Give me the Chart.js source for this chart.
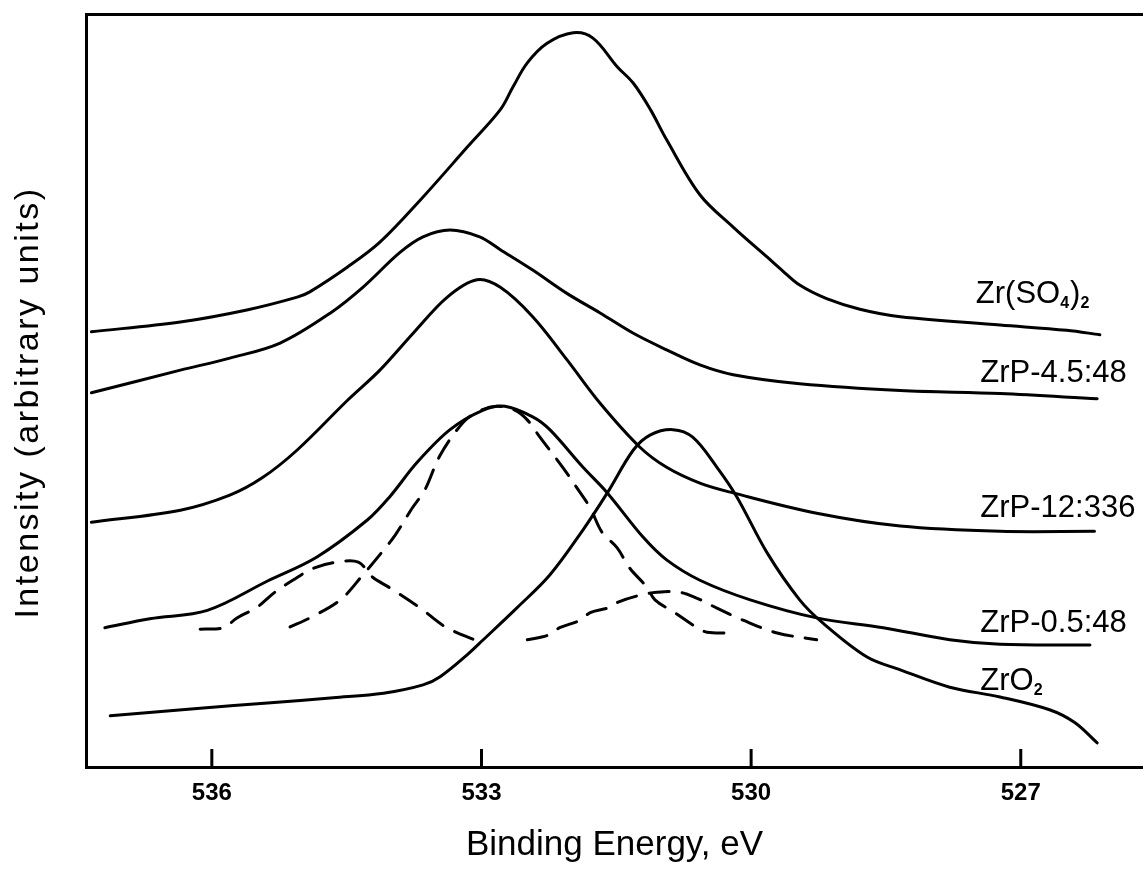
<!DOCTYPE html>
<html>
<head>
<meta charset="utf-8">
<script src="https://cdn.jsdelivr.net/npm/chart.js@4.4.1/dist/chart.umd.min.js"></script>
<style>
  html, body { margin: 0; padding: 0; background: #fff; }
  canvas { display: block; }
</style>
</head>
<body>
<canvas id="graficoXps" width="1143" height="869"></canvas>
<script>
// O 1s XPS spectra, binding energy (eV) vs intensity (arbitrary units)
const xTicks = [536, 533, 530, 527];

const zrSO4Energy = [537.34, 536.35, 535.61, 535.05, 534.91, 534.49, 534.13, 533.68, 533.16, 532.79, 532.65, 532.49, 532.27, 531.98, 531.76, 531.49, 531.31, 531.12, 530.94, 530.57, 530.20, 529.82, 529.65, 529.46, 529.16, 528.79, 528.34, 527.23, 526.49, 526.12];
const zrSO4Intensity = [57.8, 59.1, 60.7, 62.4, 63.1, 66.4, 69.7, 75.3, 82.3, 87.3, 90.3, 93.5, 96.1, 97.5, 96.8, 93.0, 90.8, 87.3, 83.3, 76.0, 71.7, 67.7, 65.9, 64.0, 62.2, 60.8, 59.8, 58.7, 58.0, 57.4];

const zrP45Energy = [537.34, 536.35, 535.80, 535.24, 534.68, 534.32, 533.91, 533.65, 533.35, 533.02, 532.79, 532.43, 532.05, 531.68, 531.31, 530.94, 530.57, 530.20, 529.46, 528.34, 527.23, 526.15];
const zrP45Intensity = [49.7, 52.7, 54.3, 56.3, 60.3, 63.7, 68.3, 70.4, 71.3, 70.4, 68.7, 66.0, 62.9, 60.3, 57.6, 55.4, 53.4, 52.1, 50.9, 50.0, 49.6, 48.9];

const zrP12Energy = [537.34, 536.35, 535.80, 535.44, 535.05, 534.49, 534.13, 533.76, 533.38, 533.05, 532.79, 532.43, 532.05, 531.68, 531.24, 530.94, 530.57, 530.20, 529.27, 528.34, 527.23, 526.18];
const zrP12Intensity = [32.5, 34.1, 36.1, 38.4, 42.1, 48.7, 52.7, 57.6, 62.4, 64.7, 63.7, 59.8, 54.1, 48.3, 42.5, 39.8, 37.7, 36.4, 33.7, 32.0, 31.3, 31.3];

const zrP05Energy = [537.19, 536.69, 536.05, 535.38, 534.83, 534.27, 534.02, 533.72, 533.35, 532.98, 532.74, 532.43, 532.24, 531.87, 531.60, 531.20, 530.94, 530.57, 530.01, 529.27, 528.53, 527.79, 527.23, 526.23];
const zrP05Intensity = [18.5, 19.7, 20.8, 24.7, 27.9, 32.8, 35.9, 40.4, 44.8, 47.4, 47.9, 46.5, 44.8, 39.8, 36.4, 30.5, 27.5, 24.8, 22.2, 19.8, 18.5, 16.9, 16.3, 16.2];

const zrO2Energy = [537.13, 536.13, 535.38, 534.65, 534.09, 533.65, 533.46, 533.16, 532.98, 532.60, 532.24, 531.87, 531.60, 531.31, 531.12, 530.87, 530.65, 530.38, 530.16, 529.82, 529.46, 529.20, 528.71, 528.34, 527.79, 527.23, 526.68, 526.40, 526.15];
const zrO2Intensity = [6.8, 7.8, 8.5, 9.2, 9.8, 10.9, 12.0, 14.9, 16.9, 21.2, 25.5, 31.5, 36.4, 42.1, 44.1, 44.8, 43.8, 39.8, 35.9, 28.4, 22.2, 19.1, 14.6, 12.9, 10.6, 9.3, 7.6, 5.9, 3.2];

// deconvolution of ZrP-0.5:48 (dashed)
const fitLowEnergy = [536.13, 535.87, 535.72, 535.50, 535.30, 535.10, 534.87, 534.61, 534.37, 534.21, 534.02, 533.68, 533.40, 533.04];
const fitLowIntensity = [18.3, 18.5, 19.8, 21.2, 23.2, 24.8, 26.4, 27.2, 27.2, 25.2, 23.8, 21.1, 18.6, 16.7];

const fitMainEnergy = [535.13, 534.91, 534.57, 534.32, 534.13, 533.96, 533.77, 533.63, 533.46, 533.20, 533.02, 532.83, 532.63, 532.49, 532.35, 532.09, 531.94, 531.79, 531.66, 531.49, 531.35, 531.16, 531.07, 530.85, 530.60, 530.49, 530.23];
const fitMainIntensity = [18.6, 19.8, 22.2, 25.5, 28.2, 30.8, 34.4, 36.8, 41.4, 45.8, 47.3, 47.9, 47.4, 46.1, 43.8, 39.7, 37.1, 34.4, 31.2, 29.1, 26.4, 23.9, 22.2, 20.5, 18.5, 17.9, 17.8];

const fitHighEnergy = [532.49, 532.26, 532.13, 531.90, 531.79, 531.57, 531.48, 531.24, 531.05, 530.79, 530.60, 530.38, 530.09, 529.71, 529.27];
const fitHighIntensity = [16.9, 17.5, 18.5, 19.5, 20.5, 21.2, 21.9, 22.8, 23.2, 23.2, 22.4, 21.1, 19.5, 17.8, 16.9];

// curve labels: energy / intensity where the text starts
const seriesLabels = [
    { x: 527.50, y: 61.6, parts: [{ t: 'Zr(SO' }, { t: '4', sub: true }, { t: ')' }, { t: '2', sub: true }] },
    { x: 527.45, y: 51.1, parts: [{ t: 'ZrP-4.5:48' }] },
    { x: 527.45, y: 33.2, parts: [{ t: 'ZrP-12:336' }] },
    { x: 527.45, y: 17.9, parts: [{ t: 'ZrP-0.5:48' }] },
    { x: 527.45, y: 10.2, parts: [{ t: 'ZrO' }, { t: '2', sub: true }] }
];

const yTitle = 'Intensity (arbitrary units)';
const fonte = "'Liberation Sans', Arial, Helvetica, sans-serif";

function serie(energy, intensity, dashed) {
    return {
        data: energy.map((e, i) => ({ x: e, y: intensity[i] })),
        borderColor: '#000',
        borderWidth: 3,
        borderDash: dashed ? [20, 13] : [],
        borderCapStyle: 'round',
        borderJoinStyle: 'round',
        pointRadius: 0,
        fill: false,
        tension: 0.35
    };
}

const ticksAndLabels = {
    id: 'ticksAndLabels',
    afterDraw(chart) {
        const { ctx, chartArea, scales: { x, y } } = chart;
        ctx.save();
        ctx.strokeStyle = '#000';
        ctx.lineWidth = 3;
        xTicks.forEach(v => {
            const px = x.getPixelForValue(v);
            ctx.beginPath();
            ctx.moveTo(px, chartArea.bottom);
            ctx.lineTo(px, chartArea.bottom - 18);
            ctx.stroke();
        });

        ctx.fillStyle = '#000';
        ctx.textBaseline = 'alphabetic';
        ctx.textAlign = 'left';
        seriesLabels.forEach(l => {
            let cx = x.getPixelForValue(l.x);
            const cy = y.getPixelForValue(l.y);
            l.parts.forEach(p => {
                ctx.font = p.sub ? 'bold 16px ' + fonte : '31px ' + fonte;
                ctx.fillText(p.t, cx, cy + (p.sub ? 5 : 0));
                cx += ctx.measureText(p.t).width + (p.sub ? 1 : 0);
            });
        });

        // y title, slightly letter-spaced like the original
        ctx.translate(29, (chartArea.top + chartArea.bottom) / 2 + 12);
        ctx.rotate(-Math.PI / 2);
        ctx.font = '34px ' + fonte;
        if ('letterSpacing' in ctx) ctx.letterSpacing = '2.5px';
        ctx.textAlign = 'center';
        ctx.textBaseline = 'middle';
        ctx.fillText(yTitle, 0, 0);
        ctx.restore();
    }
};

new Chart(document.getElementById('graficoXps'), {
    type: 'line',
    data: {
        datasets: [
            serie(zrSO4Energy, zrSO4Intensity, false),
            serie(zrP45Energy, zrP45Intensity, false),
            serie(zrP12Energy, zrP12Intensity, false),
            serie(zrP05Energy, zrP05Intensity, false),
            serie(zrO2Energy, zrO2Intensity, false),
            serie(fitLowEnergy, fitLowIntensity, true),
            serie(fitMainEnergy, fitMainIntensity, true),
            serie(fitHighEnergy, fitHighIntensity, true)
        ]
    },
    options: {
        responsive: false,
        animation: false,
        events: [],
        layout: { padding: { top: 14, right: 0, bottom: 0, left: 0 } },
        plugins: {
            legend: { display: false },
            tooltip: { enabled: false }
        },
        scales: {
            x: {
                type: 'linear',
                reverse: true,
                min: 525.64,
                max: 537.40,
                afterBuildTicks: s => { s.ticks = xTicks.map(v => ({ value: v })); },
                afterFit: s => { s.height = 102; },
                grid: { display: false, drawTicks: false },
                border: { display: true, color: '#000', width: 3 },
                ticks: {
                    color: '#000',
                    padding: 12,
                    maxRotation: 0,
                    font: { family: fonte, size: 24, weight: 'bold' }
                },
                title: {
                    display: true,
                    text: 'Binding Energy, eV',
                    color: '#000',
                    padding: { top: 0, bottom: 3 },
                    font: { family: fonte, size: 35 }
                }
            },
            xTop: {
                type: 'linear',
                position: 'top',
                min: 0,
                max: 1,
                afterFit: s => { s.height = 0; },
                grid: { display: false, drawTicks: false },
                border: { display: true, color: '#000', width: 3 },
                ticks: { display: false }
            },
            y: {
                min: 0,
                max: 100,
                afterFit: s => { s.width = 86; },
                grid: { display: false, drawTicks: false },
                border: { display: true, color: '#000', width: 3 },
                ticks: { display: false },
                title: { display: false }
            }
        }
    },
    plugins: [ticksAndLabels]
});
</script>
</body>
</html>
